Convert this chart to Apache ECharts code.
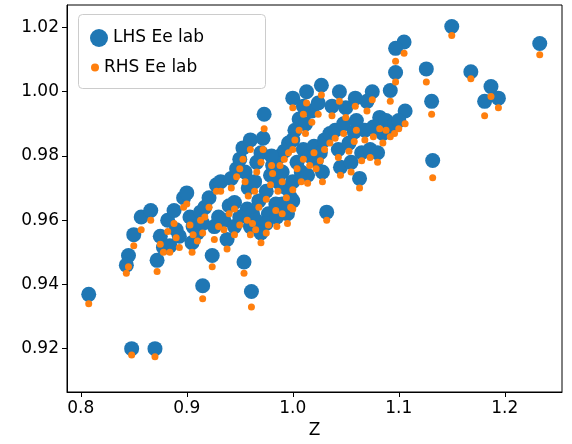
<!DOCTYPE html><html><head><meta charset="utf-8"><script src="https://cdn.jsdelivr.net/npm/echarts@6/dist/echarts.min.js"></script>
<style>html,body{margin:0;padding:0;background:#fff}#c{width:572px;height:444px}</style></head><body><div id="c"></div><script>
const zValues=[0.8075,0.848,0.870,0.915,0.954,0.961,1.150,1.233,1.132,1.105,1.097,1.126,1.097,1.092,1.131,1.168,1.187,1.194,1.181,1.027,1.013,1.000,0.973,1.075,1.044,1.059,1.106,1.082,
0.845,0.843,0.850,0.857,0.866,0.872,0.875,0.878,0.882,0.884,0.888,0.890,0.893,0.897,0.900,0.903,0.906,0.905,0.910,0.913,0.917,0.921,0.924,0.926,0.928,0.932,0.935,0.938,0.940,0.942,0.945,0.947,0.950,0.953,0.955,0.957,0.958,0.960,0.962,0.964,0.966,0.968,0.970,0.972,0.975,0.977,0.979,0.981,0.984,0.986,0.988,0.990,0.992,0.994,0.996,0.998,1.000,1.002,1.004,1.006,1.008,1.010,1.012,1.014,1.016,1.018,1.020,1.022,1.024,1.026,1.028,1.030,1.032,1.035,1.037,1.040,1.043,1.045,1.048,1.050,1.053,1.055,1.058,1.060,1.063,1.065,1.068,1.070,1.073,1.076,1.080,1.085,1.088,1.092,1.096,1.100,
0.915,0.930,0.945,0.950,0.960,0.965,0.975,0.985,0.995,1.000,0.990,0.970,1.000,1.010,0.980];
const lhsValues=[0.9369,0.9200,0.9200,0.9396,0.9470,0.9378,1.0203,1.0150,0.9786,1.0155,1.0135,1.0071,1.0060,1.0004,0.9970,1.0062,1.0016,0.9980,0.9970,1.0020,1.0000,0.9980,0.9930,1.0000,1.0000,0.9980,0.9940,0.9920,
0.9490,0.9460,0.9555,0.9610,0.9630,0.9475,0.9550,0.9515,0.9600,0.9520,0.9630,0.9570,0.9550,0.9670,0.9685,0.9610,0.9580,0.9530,0.9560,0.9625,0.9640,0.9670,0.9490,0.9580,0.9710,0.9720,0.9600,0.9540,0.9645,0.9730,0.9655,0.9760,0.9790,0.9825,0.9750,0.9635,0.9700,0.9850,0.9620,0.9720,0.9780,0.9660,0.9810,0.9855,0.9690,0.9620,0.9740,0.9770,0.9650,0.9720,0.9800,0.9750,0.9815,0.9700,0.9840,0.9670,0.9720,0.9880,0.9780,0.9915,0.9750,0.9820,0.9900,0.9740,0.9800,0.9940,0.9830,0.9785,0.9965,0.9810,0.9750,0.9850,0.9625,0.9870,0.9955,0.9880,0.9820,0.9765,0.9900,0.9950,0.9840,0.9780,0.9875,0.9910,0.9730,0.9810,0.9880,0.9970,0.9820,0.9890,0.9810,0.9870,0.9910,0.9890,0.9900,0.9910,
0.9590,0.9610,0.9580,0.9610,0.9580,0.9600,0.9590,0.9610,0.9620,0.9660,0.9650,0.9560,0.9850,0.9955,0.9800];
const rhsValues=[0.9340,0.9180,0.9175,0.9355,0.9435,0.9330,1.0175,1.0115,0.9732,1.0120,1.0095,1.0030,1.0030,0.9970,0.9930,1.0040,0.9985,0.9950,0.9925,0.9990,0.9965,0.9950,0.9885,0.9975,0.9970,0.9955,0.9900,0.9885,
0.9455,0.9435,0.9520,0.9570,0.9600,0.9440,0.9525,0.9500,0.9565,0.9500,0.9590,0.9545,0.9515,0.9640,0.9650,0.9585,0.9555,0.9500,0.9535,0.9600,0.9610,0.9640,0.9455,0.9540,0.9690,0.9690,0.9570,0.9510,0.9620,0.9700,0.9635,0.9735,0.9760,0.9790,0.9720,0.9600,0.9675,0.9820,0.9590,0.9690,0.9750,0.9640,0.9780,0.9820,0.9665,0.9585,0.9710,0.9745,0.9630,0.9690,0.9770,0.9720,0.9790,0.9670,0.9810,0.9640,0.9695,0.9850,0.9760,0.9880,0.9720,0.9790,0.9870,0.9715,0.9770,0.9905,0.9810,0.9760,0.9930,0.9785,0.9720,0.9820,0.9600,0.9840,0.9925,0.9855,0.9795,0.9740,0.9870,0.9920,0.9815,0.9750,0.9845,0.9880,0.9700,0.9785,0.9850,0.9940,0.9795,0.9860,0.9780,0.9840,0.9880,0.9860,0.9870,0.9885,
0.9560,0.9580,0.9555,0.9585,0.9555,0.9570,0.9560,0.9580,0.9590,0.9635,0.9620,0.9530,0.9820,0.9930,0.9770];
const xTicks=[0.8,0.9,1.0,1.1,1.2];
const yTicks=[0.92,0.94,0.96,0.98,1.00,1.02];
const lhs=zValues.map((z,i)=>[z,lhsValues[i]]);
const rhs=zValues.map((z,i)=>[z,rhsValues[i]]);
const c=echarts.init(document.getElementById('c'));
const lab={color:'#000',fontSize:17,fontFamily:'DejaVu Sans'};
const lt={fontSize:17,color:'#000',fontFamily:'DejaVu Sans'};
c.setOption({animation:false,
grid:{left:67,right:10,top:5,bottom:44,show:true,borderColor:'#000',borderWidth:1},
graphic:[{type:'rect',left:78,top:14,shape:{width:187,height:74,r:4},style:{fill:'rgba(255,255,255,0.8)',stroke:'#ccc',lineWidth:1},z:100}],
legend:[{left:85,top:24,itemGap:8,textStyle:lt,itemWidth:18,itemHeight:18,z:110,
 data:[{name:'LHS Ee lab',icon:'circle'}]},
 {left:91,top:54,itemGap:8,textStyle:lt,itemWidth:8,itemHeight:8,z:110,padding:[5,5,5,0],
 data:[{name:'RHS Ee lab',icon:'circle'}],selectedMode:false}],
xAxis:{type:'value',min:0.787,max:1.254,name:'Z',nameLocation:'middle',nameGap:30,nameTextStyle:lab,
 axisLine:{onZero:false,lineStyle:{color:'#000'}},axisTick:{customValues:xTicks,length:5,lineStyle:{color:'#000'}},
 axisLabel:Object.assign({customValues:xTicks,formatter:v=>v.toFixed(1)},lab),splitLine:{show:false}},
yAxis:{type:'value',min:0.9065,max:1.027,
 axisLine:{show:true,lineStyle:{color:'#000'}},axisTick:{show:true,customValues:yTicks,length:5,lineStyle:{color:'#000'}},
 axisLabel:Object.assign({customValues:yTicks,formatter:v=>v.toFixed(2)},lab),splitLine:{show:false}},
series:[{name:'LHS Ee lab',type:'scatter',data:lhs,symbolSize:15,itemStyle:{color:'#1f77b4',opacity:1}},
{name:'RHS Ee lab',type:'scatter',data:rhs,symbolSize:7,itemStyle:{color:'#ff7f0e',opacity:1}}]
});
</script></body></html>
